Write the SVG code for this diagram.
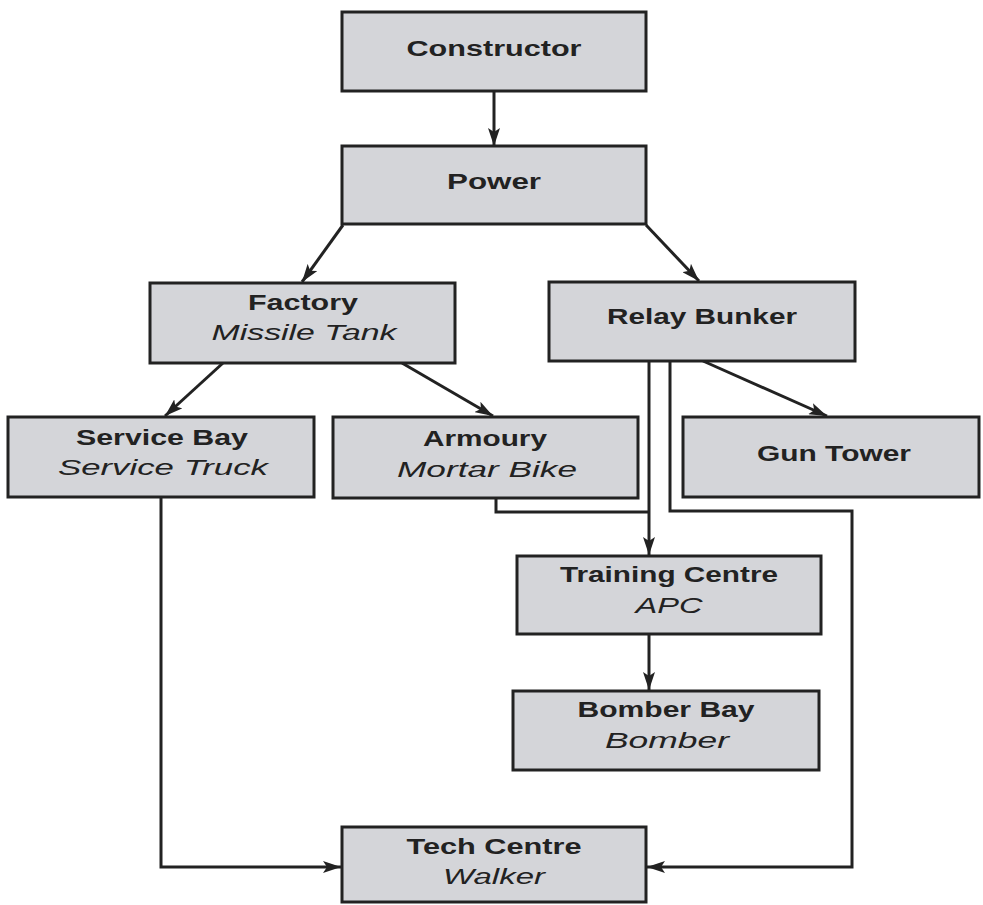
<svg xmlns="http://www.w3.org/2000/svg" width="983" height="905" viewBox="0 0 983 905">
  <defs>
    <marker id="arrow" viewBox="0 0 18 12" refX="18" refY="6" markerWidth="18" markerHeight="12" orient="auto" markerUnits="userSpaceOnUse">
      <path d="M0,0 L18,6 L0,12 L4,6 z" fill="#222"/>
    </marker>
    <style>
      .box { fill: #d4d5d9; stroke: #222; stroke-width: 3; }
      .t { font-family: "Liberation Sans", Arial, sans-serif; font-size: 22px; fill: #222; text-anchor: middle; }
      .b { font-weight: bold; }
      .i { font-style: italic; }
      .c { fill: none; stroke: #222; stroke-width: 3; }
      .a { marker-end: url(#arrow); }
    </style>
  </defs>
  <rect width="983" height="905" fill="#fff"/>

  <g id="connectors">
    <path class="c a" d="M494,91 L494,146"/>
    <path class="c a" d="M343,225 L302,282"/>
    <path class="c a" d="M646,225 L699,281"/>
    <path class="c a" d="M223,363 L165,416"/>
    <path class="c a" d="M402,363 L493,416"/>
    <path class="c a" d="M703,361 L827,416"/>
    <path class="c a" d="M649,361 L649,555"/>
    <path class="c" d="M496,498 L496,512 L649,512"/>
    <path class="c a" d="M649,634 L649,690"/>
    <path class="c a" d="M161,497 L161,867 L341,867"/>
    <path class="c a" d="M670,361 L670,511 L852,511 L852,867 L647,867"/>
  </g>

  <g id="constructor">
    <rect class="box" x="342" y="12" width="304" height="79"/>
    <text class="t b" x="494" y="56" textLength="175" lengthAdjust="spacingAndGlyphs">Constructor</text>
  </g>
  <g id="power">
    <rect class="box" x="342" y="146" width="304" height="78"/>
    <text class="t b" x="494" y="189" textLength="94" lengthAdjust="spacingAndGlyphs">Power</text>
  </g>
  <g id="factory">
    <rect class="box" x="150" y="283" width="305" height="80"/>
    <text class="t b" x="303" y="310" textLength="110" lengthAdjust="spacingAndGlyphs">Factory</text>
    <text class="t i" x="304" y="340" textLength="185" lengthAdjust="spacingAndGlyphs">Missile Tank</text>
  </g>
  <g id="relay-bunker">
    <rect class="box" x="549" y="282" width="306" height="79"/>
    <text class="t b" x="702" y="324" textLength="190" lengthAdjust="spacingAndGlyphs">Relay Bunker</text>
  </g>
  <g id="service-bay">
    <rect class="box" x="8" y="417" width="306" height="80"/>
    <text class="t b" x="162" y="445" textLength="172" lengthAdjust="spacingAndGlyphs">Service Bay</text>
    <text class="t i" x="163" y="475" textLength="210" lengthAdjust="spacingAndGlyphs">Service Truck</text>
  </g>
  <g id="armoury">
    <rect class="box" x="333" y="417" width="305" height="81"/>
    <text class="t b" x="485" y="446" textLength="124" lengthAdjust="spacingAndGlyphs">Armoury</text>
    <text class="t i" x="487" y="477" textLength="180" lengthAdjust="spacingAndGlyphs">Mortar Bike</text>
  </g>
  <g id="gun-tower">
    <rect class="box" x="683" y="417" width="296" height="80"/>
    <text class="t b" x="834" y="461" textLength="154" lengthAdjust="spacingAndGlyphs">Gun Tower</text>
  </g>
  <g id="training-centre">
    <rect class="box" x="517" y="556" width="304" height="78"/>
    <text class="t b" x="669" y="582" textLength="218" lengthAdjust="spacingAndGlyphs">Training Centre</text>
    <text class="t i" x="669" y="613" textLength="67" lengthAdjust="spacingAndGlyphs">APC</text>
  </g>
  <g id="bomber-bay">
    <rect class="box" x="513" y="691" width="306" height="79"/>
    <text class="t b" x="666" y="717" textLength="177" lengthAdjust="spacingAndGlyphs">Bomber Bay</text>
    <text class="t i" x="667" y="748" textLength="124" lengthAdjust="spacingAndGlyphs">Bomber</text>
  </g>
  <g id="tech-centre">
    <rect class="box" x="342" y="827" width="304" height="75"/>
    <text class="t b" x="494" y="854" textLength="175" lengthAdjust="spacingAndGlyphs">Tech Centre</text>
    <text class="t i" x="494" y="884" textLength="102" lengthAdjust="spacingAndGlyphs">Walker</text>
  </g>
</svg>
